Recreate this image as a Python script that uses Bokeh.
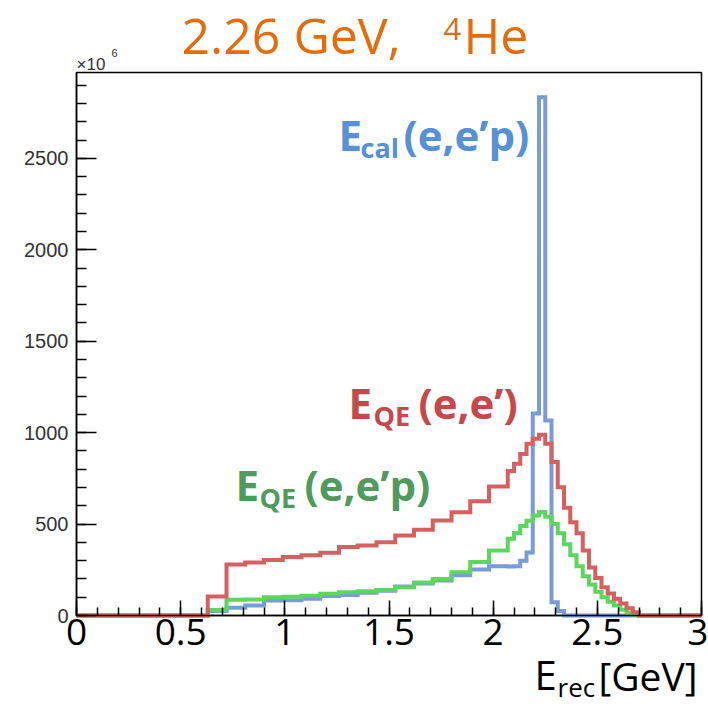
from bokeh.plotting import figure
from bokeh.models import FixedTicker, Label, LinearAxis
from bokeh.embed import file_html
from bokeh.resources import INLINE

# ---------------- data ----------------
x_min, x_max, n_bins = 0.0, 3.0, 100
bin_edges = [round(x_min + i * (x_max - x_min) / n_bins, 4) for i in range(n_bins + 1)]

# counts per bin (x 10^6), 0.03 GeV bins from 0 to 3 GeV
e_cal_epp = [
    0, 0, 0, 0, 0, 0, 0, 0, 0, 0,
    0, 0, 0, 0, 0, 0, 0, 0, 0, 0,
    0, 25, 25, 25, 43, 43, 43, 55, 55, 55,
    82, 82, 82, 84, 84, 84, 92, 92, 92, 107,
    107, 107, 112, 112, 112, 125, 125, 125, 135, 135,
    135, 158, 158, 158, 175, 175, 175, 192, 192, 192,
    220, 220, 220, 252, 252, 252, 270, 270, 270, 268,
    270, 300, 345, 1105, 2835, 1067, 73, 25, 0, 0,
    0, 0, 0, 0, 0, 0, 0, 0, 0, 0,
    0, 0, 0, 0, 0, 0, 0, 0, 0, 0,
]
e_qe_epp = [
    0, 0, 0, 0, 0, 0, 0, 0, 0, 0,
    0, 0, 0, 0, 0, 0, 0, 0, 0, 0,
    0, 30, 30, 30, 86, 86, 86, 88, 88, 88,
    100, 100, 100, 102, 102, 102, 108, 108, 108, 119,
    119, 119, 127, 127, 127, 132, 132, 132, 140, 140,
    140, 155, 155, 155, 180, 180, 180, 200, 200, 200,
    237, 237, 237, 292, 292, 292, 356, 356, 356, 420,
    451, 489, 518, 547, 566, 540, 500, 450, 390, 330,
    270, 215, 170, 130, 100, 75, 55, 32, 15, 4,
    0, 0, 0, 0, 0, 0, 0, 0, 0, 0,
]
e_qe_ee = [
    0, 0, 0, 0, 0, 0, 0, 0, 0, 0,
    0, 0, 0, 0, 0, 0, 0, 0, 0, 0,
    0, 104, 104, 104, 279, 279, 279, 290, 290, 290,
    303, 303, 303, 320, 320, 320, 330, 330, 330, 343,
    343, 343, 374, 374, 374, 383, 383, 383, 401, 401,
    401, 438, 438, 438, 469, 469, 469, 520, 520, 520,
    565, 565, 565, 625, 625, 625, 706, 706, 706, 790,
    830, 884, 939, 967, 988, 939, 839, 702, 590, 510,
    450, 356, 262, 205, 155, 120, 92, 65, 40, 18,
    0, 0, 0, 0, 0, 0, 0, 0, 0, 0,
]

x_tick_values = [0, 0.5, 1, 1.5, 2, 2.5, 3]
x_tick_labels = ["0", "0.5", "1", "1.5", "2", "2.5", "3"]
y_tick_values = [0, 500, 1000, 1500, 2000, 2500]
y_tick_labels = ["0", "500", "1000", "1500", "2000", "2500"]
y_top = 2970

# ---------------- layout (pixels) ----------------
W, H = 708, 706
PX_L, PX_R = 76, 701     # canvas x of E=0 and E=3
PY_B, PY_T = 615, 72     # canvas y of count=0 and count=y_top
kx = (PX_R - PX_L) / (x_max - x_min)
ky = (PY_B - PY_T) / y_top
x_range = (x_min - PX_L / kx, x_max + (W - PX_R) / kx)
y_range = (-(H - PY_B) / ky, y_top + PY_T / ky)

p = figure(width=W, height=H, x_range=x_range, y_range=y_range,
           output_backend="svg", toolbar_location=None, title_location=None,
           x_axis_location=None, y_axis_location=None,
           min_border_left=0, min_border_right=0, min_border_top=0, min_border_bottom=0)
p.xgrid.visible = False
p.ygrid.visible = False
p.outline_line_color = None
p.background_fill_color = "white"
p.border_fill_color = "white"

# frame box
p.quad(left=[x_min], right=[x_max], bottom=[0], top=[y_top],
       fill_color=None, line_color="black", line_width=1.5)

xa = LinearAxis(fixed_location=0, bounds=(x_min, x_max))
xa.ticker = FixedTicker(ticks=x_tick_values, minor_ticks=[i / 10 for i in range(31)])
xa.major_label_overrides = {v: l for v, l in zip(x_tick_values, x_tick_labels)}
xa.major_tick_in = 15
xa.major_tick_out = 0
xa.minor_tick_in = 8
xa.minor_tick_out = 0
xa.axis_line_width = 1.5
xa.major_tick_line_width = 1.5
xa.minor_tick_line_width = 1.5
xa.major_label_text_font = "Open Sans"
xa.major_label_text_font_size = "37px"
xa.major_label_text_color = "black"
xa.major_label_standoff = 3
p.add_layout(xa, "below")

ya = LinearAxis(fixed_location=0, bounds=(0, y_top))
ya.ticker = FixedTicker(ticks=y_tick_values, minor_ticks=[i * 100 for i in range(30)])
ya.major_label_overrides = {v: l for v, l in zip(y_tick_values, y_tick_labels)}
ya.major_tick_in = 20
ya.major_tick_out = 0
ya.minor_tick_in = 10
ya.minor_tick_out = 0
ya.axis_line_width = 1.5
ya.major_tick_line_width = 1.5
ya.minor_tick_line_width = 1.5
ya.major_label_text_font = "Liberation Sans"
ya.major_label_text_font_size = "20px"
ya.major_label_text_color = "#333333"
ya.major_label_standoff = 8
p.add_layout(ya, "left")

# ---------------- histograms ----------------
series = [
    (e_cal_epp, "#7A9BD8"),
    (e_qe_epp, "#5CD65C"),
    (e_qe_ee, "#D5605F"),
]
for vals, col in series:
    p.step(x=bin_edges, y=list(vals) + [vals[-1]], mode="after",
           line_color=col, line_width=4, line_join="miter")

# ---------------- texts ----------------
SHIFT = {"Open Sans": 0.39, "Liberation Sans": 0.30}

def txt(px, py, text, size, color, font="Open Sans", bold=False):
    # py is the wanted baseline (canvas pixels from top)
    y_set = py - SHIFT[font] * size
    p.add_layout(Label(x=px, y=H - y_set, x_units="screen", y_units="screen",
                       text=text, text_font=font, text_font_size=f"{size}px",
                       text_color=color, text_font_style="bold" if bold else "normal",
                       text_baseline="alphabetic", text_align="left"))

ORANGE = "#E46C0A"
txt(181, 54, "2.26 GeV,", 50, ORANGE)
txt(443, 41, "4", 31, ORANGE)
txt(463, 54, "He", 50, ORANGE)

txt(76, 69, "\u00d710", 17, "#333333", font="Liberation Sans")
txt(111, 56, "6", 11, "#333333", font="Liberation Sans")

BLUE_T, RED_T, GREEN_T = "#5590D9", "#C8474A", "#4F9A5D"
txt(338, 150, "E", 42, BLUE_T, bold=True)
txt(360, 158, "cal", 27, BLUE_T, bold=True)
txt(403, 150, "(e,e\u2019p)", 42, BLUE_T, bold=True)

txt(348, 418, "E", 42, RED_T, bold=True)
txt(373, 426, "QE", 27, RED_T, bold=True)
txt(418, 418, "(e,e\u2019)", 42, RED_T, bold=True)

txt(235, 500, "E", 42, GREEN_T, bold=True)
txt(259, 508, "QE", 27, GREEN_T, bold=True)
txt(304, 500, "(e,e\u2019p)", 42, GREEN_T, bold=True)

txt(534, 690, "E", 40, "black")
txt(557, 697, "rec", 26, "black")
txt(598, 690, "[GeV]", 39, "black")

open("out.html", "w").write(file_html(p, INLINE))
